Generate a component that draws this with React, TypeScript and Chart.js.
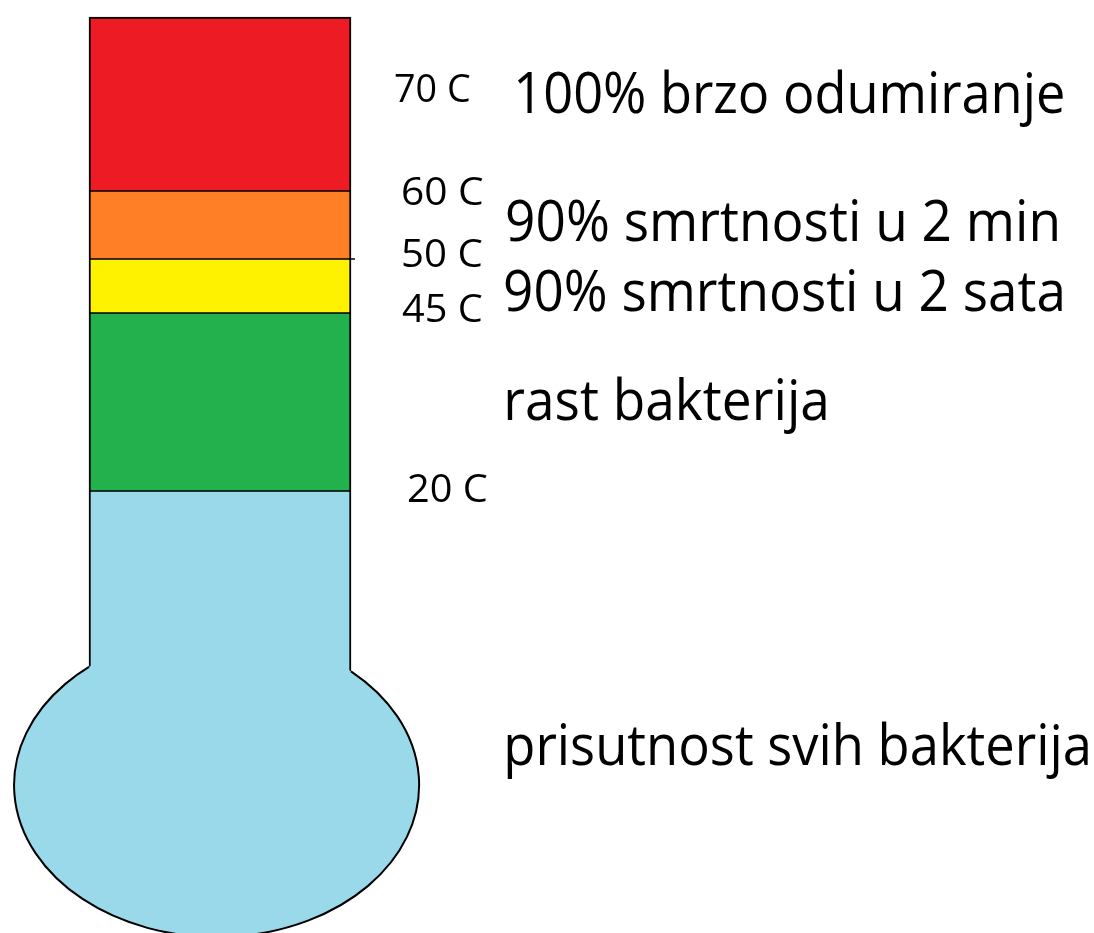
import React, { useEffect, useRef } from "react";
import { Chart, registerables } from "chart.js";

Chart.register(...registerables);

// Zones of the thermometer (top to bottom), values on a vertical layout scale (0..933)
const zoneNames = ["100% brzo odumiranje", "90% smrtnosti u 2 min", "90% smrtnosti u 2 sata", "rast bakterija", "prisutnost svih bakterija"];
const zoneTop = [916, 742, 674, 620, 442];
const zoneBottom = [742, 674, 620, 442, 160];
const zoneColors = ["#ED1C24", "#FF7F27", "#FFF200", "#22B14C", "#99D9EA"];

// Temperature tick labels
const tempLabels = ["70 C", "60 C", "50 C", "45 C", "20 C"];

// Bulb (on the same vertical scale; width/offset relative to the tube width)
const bulbCenter = 148;
const bulbRadius = 152;
const bulbWidthRatio = 1.546;
const bulbOffsetRatio = -0.013;

// Text layout: [left, baseline, width, capHeight]
const tempLayout = [
  [395, 102, 75, 28],
  [403, 205, 80, 28],
  [403, 267, 79, 28],
  [402, 322, 80, 28],
  [408, 502, 79, 28],
];
const zoneLayout = [
  [518, 113, 545, 40],
  [507, 241, 550, 40],
  [505, 311, 557, 40],
  [507, 420, 319, 40],
  [507, 765, 581, 40],
];

const FONT = "'Open Sans'";
const CAP = 0.714;

function drawFitText(ctx: CanvasRenderingContext2D, text: string, l: number[]) {
  const [x, y, w, cap] = l;
  const size = cap / CAP;
  ctx.save();
  ctx.font = `${size}px ${FONT}`;
  ctx.fillStyle = "#000";
  ctx.textBaseline = "alphabetic";
  ctx.textAlign = "left";
  const m = ctx.measureText(text);
  const inkW = m.actualBoundingBoxRight + m.actualBoundingBoxLeft;
  const sx = w / inkW;
  ctx.translate(x, y);
  ctx.scale(sx, 1);
  ctx.fillText(text, m.actualBoundingBoxLeft, 0);
  ctx.restore();
}

const thermoPlugin = {
  id: "thermo",
  afterDatasetsDraw(chart: any) {
    const ctx: CanvasRenderingContext2D = chart.ctx;
    const y = chart.scales.y;
    const meta = chart.getDatasetMeta(zoneNames.length - 1);
    const bar = meta.data[0];
    const barW = bar.width;
    const left = bar.x - barW / 2;
    const right = bar.x + barW / 2;
    const cx = bar.x + barW * bulbOffsetRatio;
    const rx = (barW * bulbWidthRatio) / 2;
    const cy = y.getPixelForValue(bulbCenter);
    const ry = Math.abs(y.getPixelForValue(bulbCenter + bulbRadius) - cy);
    const tR = -Math.acos((right - cx) / rx);
    const tL = -Math.acos((left - cx) / rx);
    ctx.save();
    ctx.beginPath();
    ctx.ellipse(cx, cy, rx, ry, 0, 0, Math.PI * 2);
    ctx.fillStyle = zoneColors[zoneColors.length - 1];
    ctx.fill();
    ctx.beginPath();
    ctx.ellipse(cx, cy, rx, ry, 0, tR, tL + Math.PI * 2, false);
    ctx.strokeStyle = "#000";
    ctx.lineWidth = 2;
    ctx.stroke();
    // small overshoot of the 50 C line
    const y50 = y.getPixelForValue(zoneBottom[1]);
    ctx.beginPath();
    ctx.moveTo(right, y50);
    ctx.lineTo(right + 4, y50);
    ctx.lineWidth = 1.5;
    ctx.stroke();
    ctx.restore();

    tempLabels.forEach((t, i) => drawFitText(ctx, t, tempLayout[i]));
    zoneNames.forEach((t, i) => drawFitText(ctx, t, zoneLayout[i]));
  },
};

export default function App() {
  const ref = useRef<HTMLCanvasElement>(null);
  useEffect(() => {
    if (!ref.current) return;
    const n = zoneNames.length;
    const datasets = zoneNames.map((name, i) => ({
      label: name,
      data: [[zoneBottom[i], zoneTop[i]]],
      backgroundColor: zoneColors[i],
      borderColor: "#000",
      borderWidth: {
        top: i === 0 ? 2 : 1,
        bottom: i === n - 1 ? 0 : 1,
        left: 2,
        right: 2,
      },
      borderSkipped: false,
      grouped: false,
      barThickness: 262,
    }));
    const chart = new Chart(ref.current, {
      type: "bar",
      data: { labels: [""], datasets: datasets as any },
      options: {
        animation: false,
        responsive: true,
        maintainAspectRatio: false,
        devicePixelRatio: 1,
        layout: { padding: { left: 0, right: 654, top: 0, bottom: 0 } },
        plugins: { legend: { display: false }, tooltip: { enabled: false } },
        scales: {
          x: { display: false },
          y: { display: false, min: 0, max: 933 },
        },
      },
      plugins: [thermoPlugin],
    });
    return () => chart.destroy();
  }, []);
  return (
    <div style={{ position: "fixed", left: 0, top: 0, width: 1094, height: 933, background: "#fff" }}>
      <canvas ref={ref} />
    </div>
  );
}
